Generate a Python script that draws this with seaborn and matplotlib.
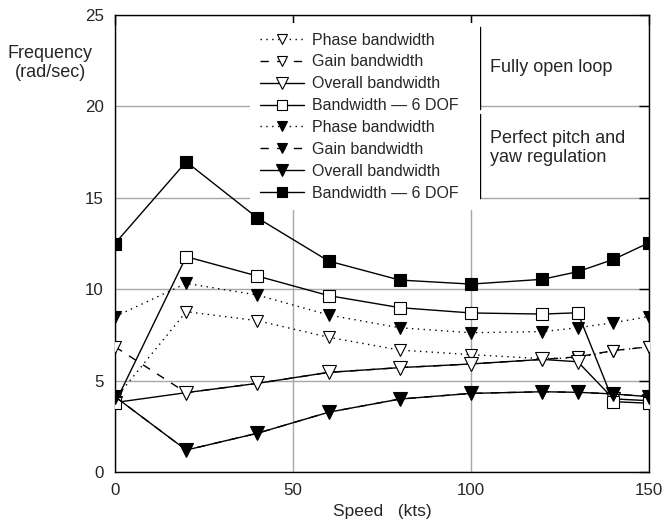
import matplotlib
matplotlib.use("Agg")
import matplotlib.pyplot as plt
from matplotlib.lines import Line2D
import seaborn as sns
import pandas as pd

speed = [0, 20, 40, 60, 80, 100, 120, 130, 140, 150]
open_phase = [4.0, 8.77, 8.28, 7.37, 6.67, 6.42, 6.2, 6.25, 6.64, 6.85]
open_gain = [6.85, 4.34, 4.85, 5.45, 5.71, 5.91, 6.16, 6.3, 6.64, 6.85]
open_overall = [3.8, 4.34, 4.85, 5.45, 5.71, 5.91, 6.16, 6.03, 4.0, 3.9]
open_6dof = [3.76, 11.78, 10.72, 9.65, 8.99, 8.70, 8.64, 8.71, 3.85, 3.76]
perf_phase = [8.5, 10.32, 9.68, 8.59, 7.89, 7.62, 7.68, 7.89, 8.17, 8.5]
perf_gain = [4.12, 1.2, 2.12, 3.27, 3.99, 4.3, 4.39, 4.36, 4.27, 4.12]
perf_overall = [4.12, 1.2, 2.12, 3.27, 3.99, 4.3, 4.39, 4.36, 4.27, 4.12]
perf_6dof = [12.5, 16.97, 13.9, 11.54, 10.5, 10.28, 10.54, 10.96, 11.63, 12.54]

legend_labels = ["Phase bandwidth", "Gain bandwidth", "Overall bandwidth",
                 "Bandwidth \u2014 6 DOF"]
group_labels = ["Fully open loop", "Perfect pitch and\nyaw regulation"]
x_ticks = [0, 50, 100, 150]
y_ticks = [0, 5, 10, 15, 20, 25]

sns.set_theme(style="white")
plt.rcParams["font.family"] = ["Liberation Sans", "DejaVu Sans"]

W, H = 665, 523
fig = plt.figure(figsize=(W / 100, H / 100), dpi=100)
ax = fig.add_axes([115 / W, (H - 472) / H, (649 - 115) / W, (472 - 15) / H])

dot = (0, (1, 3.2))
dash = (0, (6, 6))
series = [
    (open_phase, dot, "v", "white", 8.5),
    (open_gain, dash, "v", "white", 8.5),
    (open_overall, "-", "v", "white", 10),
    (open_6dof, "-", "s", "white", 8),
    (perf_phase, dot, "v", "black", 8.5),
    (perf_gain, dash, "v", "black", 8.5),
    (perf_overall, "-", "v", "black", 10),
    (perf_6dof, "-", "s", "black", 8),
]
handles = []
for i, (vals, ls, mk, fc, ms) in enumerate(series):
    df = pd.DataFrame({"speed": speed, "freq": vals})
    sns.lineplot(data=df, x="speed", y="freq", ax=ax, color="black",
                 linestyle=ls, linewidth=1.0, marker=mk, markersize=ms,
                 markerfacecolor=fc, markeredgecolor="black",
                 markeredgewidth=0.8, zorder=3 + i * 0.1, legend=False)
    handles.append(Line2D([], [], color="black", linestyle=ls, linewidth=1.0,
                          marker=mk, markersize=ms * 0.9, markerfacecolor=fc,
                          markeredgecolor="black", markeredgewidth=0.8))

ax.set_xlim(0, 150)
ax.set_ylim(0, 25)
ax.set_xticks(x_ticks)
ax.set_yticks(y_ticks)
ax.grid(True, color="#a8a8a8", linewidth=1.0)
ax.set_axisbelow(True)
for s in ax.spines.values():
    s.set_visible(True)
    s.set_color("black")
    s.set_linewidth(1.0)
ax.tick_params(direction="in", length=7, width=1.0, color="black",
               top=True, right=True, labelsize=12.2, pad=8)
ax.set_xlabel("Speed   (kts)", fontsize=12.5, labelpad=4)
ax.set_ylabel("")
fig.text(50 / W, 1 - 63 / H, "Frequency\n(rad/sec)", ha="center", va="center",
         fontsize=13, multialignment="center", linespacing=1.08)

labels = legend_labels + legend_labels
leg = fig.legend(handles, labels, loc="upper left",
                 bbox_to_anchor=(250 / W, 1 - 207 / H, 230 / W, 184 / H),
                 mode="expand", fontsize=11.5, frameon=True, fancybox=False,
                 facecolor="white", edgecolor="none", framealpha=1,
                 handlelength=2.8, handletextpad=0.5, labelspacing=0.43,
                 borderpad=0.6, borderaxespad=0)


def px(x, y):
    return x / W, 1 - y / H


for (y0, y1) in [(27, 109), (114, 198)]:
    xs, ys = zip(px(473, y0), px(480, y0), px(480, y1), px(473, y1))
    fig.add_artist(Line2D(xs, ys, color="black", linewidth=1.0,
                          transform=fig.transFigure))

fig.text(*px(490, 67), group_labels[0], ha="left", va="center", fontsize=13)
fig.text(*px(490, 148), group_labels[1], ha="left", va="center", fontsize=13,
         linespacing=1.1)

fig.savefig("out.png", dpi=100)
